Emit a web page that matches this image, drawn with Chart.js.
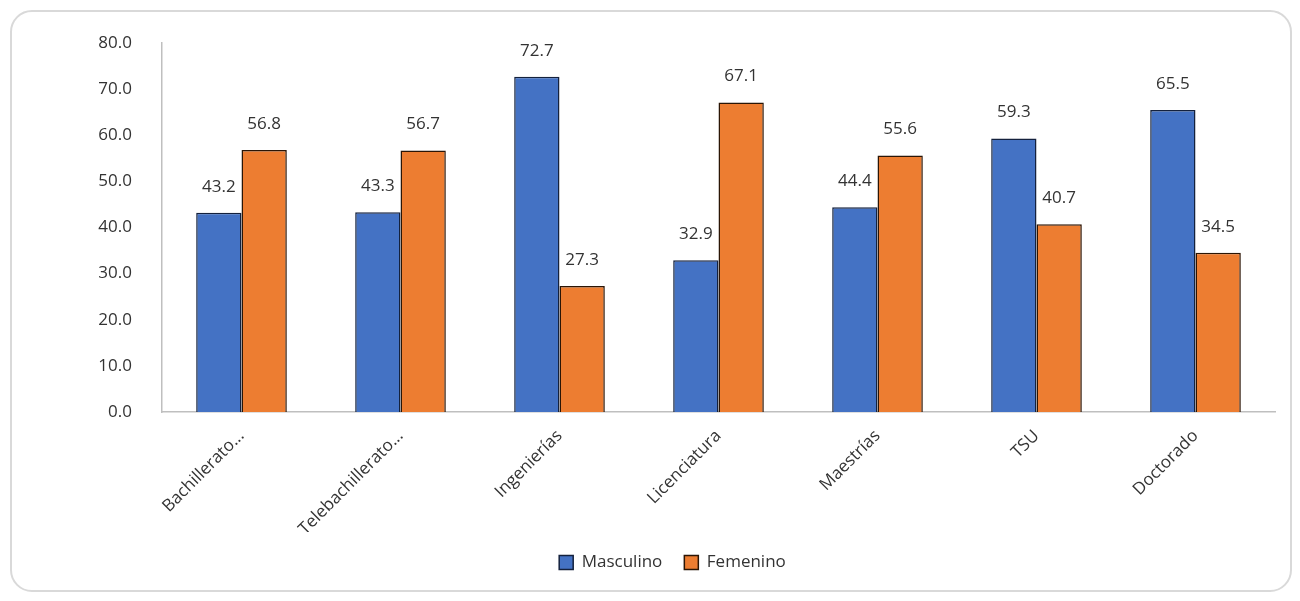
<!DOCTYPE html>
<html>
<head>
<meta charset="utf-8">
<script src="https://cdn.jsdelivr.net/npm/chart.js@4/dist/chart.umd.min.js"></script>
<style>
  body { margin: 0; background: #fff; }
  #frame {
    position: absolute; left: 10px; top: 10px; width: 1278px; height: 578px;
    border: 2px solid #d9d9d9; border-radius: 22px;
  }
  #wrap { position: absolute; left: 0; top: 0; width: 1300px; height: 601px; }
</style>
</head>
<body>
<div id="frame"></div>
<div id="wrap"><canvas id="chart"></canvas></div>
<script>
const categories = ["Bachillerato...", "Telebachillerato...", "Ingenierías", "Licenciatura", "Maestrías", "TSU", "Doctorado"];
const masculino = [43.2, 43.3, 72.7, 32.9, 44.4, 59.3, 65.5];
const femenino = [56.8, 56.7, 27.3, 67.1, 55.6, 40.7, 34.5];
const yTicks = [0, 10, 20, 30, 40, 50, 60, 70, 80];

const textColor = "#333333";
const fontFamily = "'Open Sans', 'Liberation Sans', sans-serif";
const fontSize = 17;

// draws the value above each bar
const valueLabels = {
  id: "valueLabels",
  afterDatasetsDraw(chart) {
    const ctx = chart.ctx;
    ctx.save();
    ctx.font = fontSize + "px " + fontFamily;
    ctx.fillStyle = textColor;
    ctx.textAlign = "center";
    ctx.textBaseline = "middle";
    chart.data.datasets.forEach((ds, i) => {
      chart.getDatasetMeta(i).data.forEach((bar, j) => {
        ctx.fillText(ds.data[j].toFixed(1), bar.x, bar.y - 26);
      });
    });
    ctx.restore();
  }
};

new Chart(document.getElementById("chart"), {
  type: "bar",
  data: {
    labels: categories,
    datasets: [
      {
        label: "Masculino",
        data: masculino,
        backgroundColor: "#4472c4",
        borderColor: "#14213d",
        borderWidth: 1.5
      },
      {
        label: "Femenino",
        data: femenino,
        backgroundColor: "#ed7d31",
        borderColor: "#2b1505",
        borderWidth: 1.5
      }
    ]
  },
  options: {
    responsive: true,
    maintainAspectRatio: false,
    animation: false,
    datasets: { bar: { categoryPercentage: 0.57, barPercentage: 1.0 } },
    layout: { padding: { left: 70, right: 25, top: 43, bottom: 20 } },
    plugins: {
      tooltip: { enabled: false },
      legend: {
        position: "bottom",
        labels: {
          color: textColor,
          font: { size: fontSize, family: fontFamily },
          boxWidth: 14,
          boxHeight: 14,
          padding: 22
        }
      }
    },
    scales: {
      x: {
        grid: { display: false },
        border: { color: "#bfbfbf", width: 1.5 },
        ticks: {
          color: textColor,
          font: { size: fontSize, family: fontFamily },
          minRotation: 45,
          maxRotation: 45,
          padding: 6
        },
        afterFit: (s) => { s.height = 120; }
      },
      y: {
        min: 0,
        max: 80,
        afterBuildTicks: (s) => { s.ticks = yTicks.map(v => ({ value: v })); },
        grid: { display: false },
        border: { color: "#bfbfbf", width: 1.5 },
        ticks: {
          color: textColor,
          font: { size: fontSize, family: fontFamily },
          padding: 22,
          callback: (v) => Number(v).toFixed(1)
        },
        afterFit: (s) => { s.width = 92; }
      }
    }
  },
  plugins: [valueLabels]
});
</script>
</body>
</html>
